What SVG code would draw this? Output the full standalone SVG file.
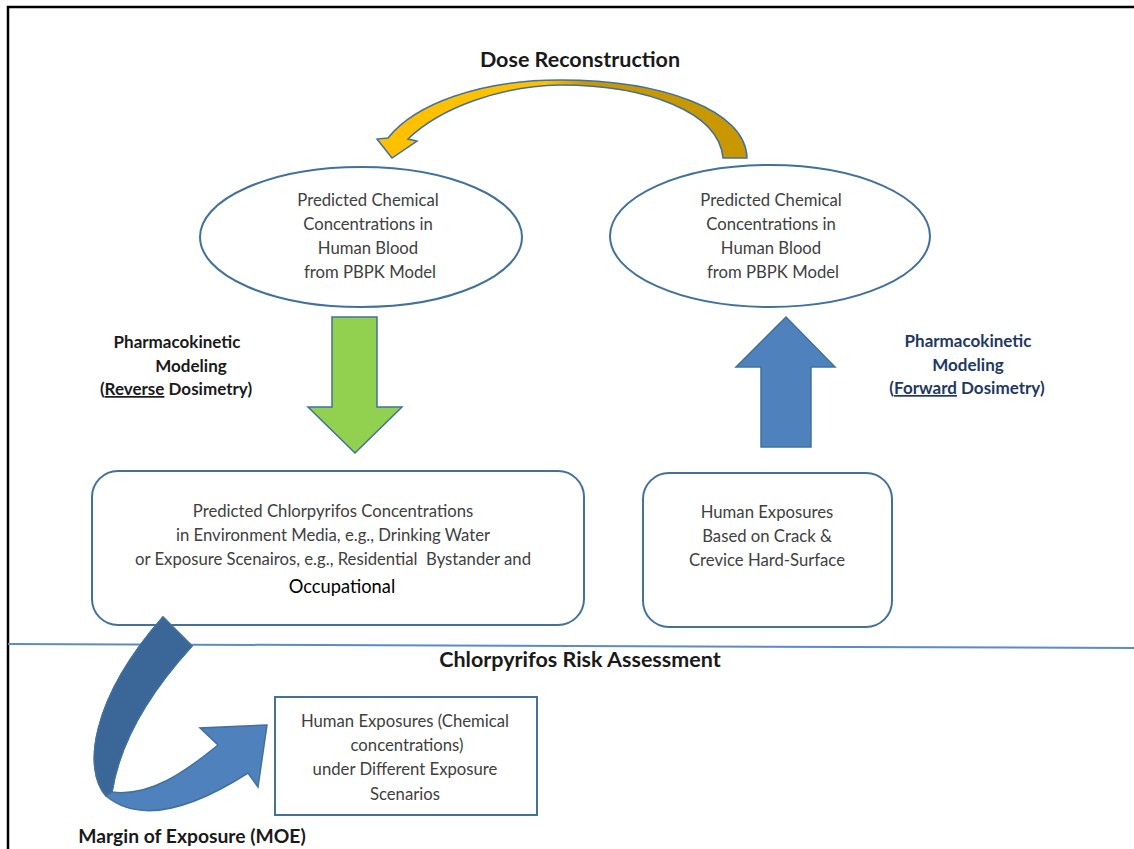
<svg xmlns="http://www.w3.org/2000/svg" width="1134" height="849" viewBox="0 0 1134 849">
<defs>
<style>
.t{font-family:Lato,"Liberation Sans",sans-serif;font-size:16.7px;fill:#404040;text-anchor:middle}
.b{font-family:Lato,"Liberation Sans",sans-serif;font-weight:bold;fill:#1a1a1a;text-anchor:middle}
.l{font-size:17px}
.n{fill:#fff;stroke:#41719c;stroke-width:2}
.ol{stroke:#41719c;stroke-width:1.5;stroke-linejoin:miter}
</style>
<linearGradient id="gold" x1="380" y1="0" x2="750" y2="0" gradientUnits="userSpaceOnUse">
<stop offset="0" stop-color="#ffc000"/><stop offset="0.45" stop-color="#ffc000"/><stop offset="0.55" stop-color="#c99800"/><stop offset="1" stop-color="#c99800"/>
</linearGradient>
</defs>
<rect width="1134" height="849" fill="#fff"/>
<path d="M8,849 V7 H1134" fill="none" stroke="#000" stroke-width="2.5"/>
<path d="M8,644 L1134,648" stroke="#5b8bc9" stroke-width="2" fill="none"/>

<g id="title-dose"><text class="b" x="580" y="67" font-size="21.5">Dose Reconstruction</text></g>

<g id="ellipse-left">
<ellipse class="n" cx="361" cy="237" rx="161" ry="70"/>
<text class="t" x="368" y="206">Predicted Chemical</text>
<text class="t" x="368" y="230">Concentrations in</text>
<text class="t" x="368" y="254">Human Blood</text>
<text class="t" x="370" y="278">from PBPK Model</text>
</g>
<g id="ellipse-right">
<ellipse class="n" cx="770" cy="236" rx="160" ry="71"/>
<text class="t" x="771" y="206">Predicted Chemical</text>
<text class="t" x="771" y="230">Concentrations in</text>
<text class="t" x="771" y="254">Human Blood</text>
<text class="t" x="773" y="278">from PBPK Model</text>
</g>

<g id="label-reverse">
<text class="b l" x="177" y="348">Pharmacokinetic</text>
<text class="b l" x="191" y="372">Modeling</text>
<text class="b l" x="176" y="395">(<tspan text-decoration="underline">Reverse</tspan> Dosimetry)</text>
</g>
<g id="label-forward">
<text class="b l" x="968" y="347" style="fill:#1f3864">Pharmacokinetic</text>
<text class="b l" x="968" y="371" style="fill:#1f3864">Modeling</text>
<text class="b l" x="967" y="394" style="fill:#1f3864">(<tspan text-decoration="underline">Forward</tspan> Dosimetry)</text>
</g>

<g id="box-predicted">
<rect class="n" x="92" y="471" width="492" height="154" rx="26"/>
<text class="t" x="333" y="517">Predicted Chlorpyrifos Concentrations</text>
<text class="t" x="333" y="541">in Environment Media, e.g., Drinking Water</text>
<text class="t" x="333" y="565" xml:space="preserve">or Exposure Scenairos, e.g., Residential  Bystander and</text>
<text class="t" x="342" y="593" style="fill:#000;font-size:18.3px">Occupational</text>
</g>
<g id="box-crack">
<rect class="n" x="643" y="473" width="249" height="154" rx="26"/>
<text class="t" x="767" y="518">Human Exposures</text>
<text class="t" x="767" y="542">Based on Crack &amp;</text>
<text class="t" x="767" y="566">Crevice Hard-Surface</text>
</g>

<g id="title-risk"><text class="b" x="580" y="667" font-size="21.5">Chlorpyrifos Risk Assessment</text></g>

<g id="box-scenarios">
<rect class="n" x="275" y="697" width="262" height="118"/>
<text class="t" x="405" y="727">Human Exposures (Chemical</text>
<text class="t" x="407" y="751">concentrations)</text>
<text class="t" x="405" y="775">under Different Exposure</text>
<text class="t" x="405" y="800">Scenarios</text>
</g>

<g id="title-moe"><text class="b" x="192" y="843" font-size="19.3">Margin of Exposure (MOE)</text></g>

<g id="connectors">
<path class="ol" fill="url(#gold)" d="M747,158 C746,110 662,80 560,80 C480,80 415,104 388,138 L377,139 L392,158 L417,141 L408,139 C440,108 500,86 560,85 C647,85 719,112 723,158 Z"/>
<path class="ol" fill="#92d050" d="M332,317 H377 V407 H402 L355,453 L308,407 H332 Z"/>
<path class="ol" fill="#4f81bd" d="M786,317 L835,367 H811 V447 H761 V367 H736 Z"/>
<path class="ol" fill="#4f81bd" d="M163,617 L192,646 C150,692 120,740 112,792 C150,797 185,772 218,745 L200,728 L267,725 L258,787 L248,773 C190,810 140,824 106,796 C83,770 90,700 163,617 Z"/>
<path class="ol" fill="#3b6698" d="M106,796 C83,770 90,700 163,617 L192,646 C150,692 120,740 112,792 Z"/>
</g>
</svg>
